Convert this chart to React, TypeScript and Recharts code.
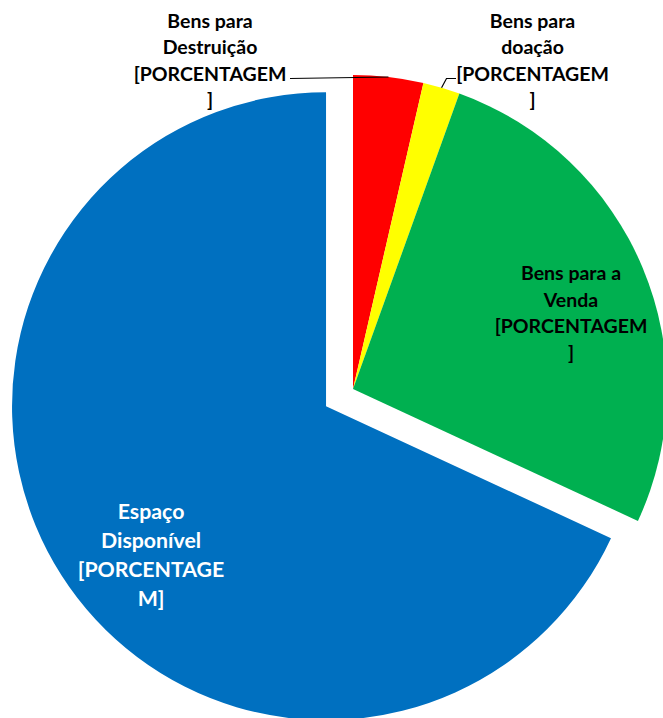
import React from 'react';
import { PieChart, Pie, Cell } from 'recharts';

const categories = ['Bens para Destruição', 'Bens para doação', 'Bens para a Venda', 'Espaço Disponível'];
const values = [3.6, 1.9, 26.4, 68.1];
const colors = ['#FF0000', '#FFFF00', '#00B050', '#0070C0'];
const labelLines = [
  ['Bens para', 'Destruição', '[PORCENTAGEM', ']'],
  ['Bens para', 'doação', '[PORCENTAGEM', ']'],
  ['Bens para a', 'Venda', '[PORCENTAGEM', ']'],
  ['Espaço', 'Disponível', '[PORCENTAGE', 'M]'],
];
const explodedIndex = 3;

const data = categories.map((name, i) => ({ name, value: values[i] }));

const W = 663;
const H = 718;
const CX = 353;
const CY = 389;
const R = 314;
const EXPLODE = 32;
const START = 90;
const END = -270;
const RAD = Math.PI / 180;

const total = values.reduce((a, b) => a + b, 0);
const before = values.slice(0, explodedIndex).reduce((a, b) => a + b, 0);
const midFrac = (before + values[explodedIndex] / 2) / total;
const midDeg = START + (END - START) * midFrac;
const EX_DX = EXPLODE * Math.cos(midDeg * RAD);
const EX_DY = -EXPLODE * Math.sin(midDeg * RAD);

const FONT = 'Lato, "Open Sans", sans-serif';

// label layout relative to pie center: anchor x offset, first baseline offset
const layout = [
  { dx: -143, dy: -361.5, size: 19.5, lh: 26.5, color: '#000', leader: 'left' },
  { dx: 179.5, dy: -361.5, size: 19.5, lh: 26.5, color: '#000', leader: 'right' },
  { dx: 218, dy: -109, size: 19.5, lh: 26.7, color: '#000', leader: '' },
  { dx: -175, dy: 112.3, size: 21.3, lh: 29, color: '#fff', leader: '' },
];

const renderLabel = (props: any) => {
  const { cx, cy, midAngle, index } = props;
  const L = layout[index];
  let ox = 0;
  let oy = 0;
  if (index === explodedIndex) {
    ox = EX_DX;
    oy = EX_DY;
  }
  const ax = cx + ox + L.dx;
  const ay = cy + oy + L.dy;
  const px = cx + R * Math.cos(midAngle * RAD);
  const py = cy - R * Math.sin(midAngle * RAD);
  const lines = labelLines[index];
  let leader = null;
  if (L.leader === 'left') {
    const sx = ax + 80;
    const sy = ay + 2 * L.lh - 2;
    leader = <path d={`M${sx},${sy}L${px},${py}`} stroke="#000" strokeWidth={1.2} fill="none" />;
  } else if (L.leader === 'right') {
    const sx = ax - 76.5;
    const sy = ay + 2 * L.lh - 2;
    const ex = ax - 86;
    leader = <path d={`M${sx},${sy}L${ex},${sy}L${px},${py}`} stroke="#000" strokeWidth={1.2} fill="none" />;
  }
  return (
    <g key={`lbl-${index}`}>
      {leader}
      <text
        x={ax}
        y={ay}
        textAnchor="middle"
        fill={L.color}
        fontFamily={FONT}
        fontWeight={700}
        fontSize={L.size}
      >
        {lines.map((t, i) => (
          <tspan key={i} x={ax} y={ay + i * L.lh}>
            {t}
          </tspan>
        ))}
      </text>
    </g>
  );
};

export default function App() {
  return (
    <div style={{ position: 'absolute', left: 0, top: 0, width: W, height: H, overflow: 'hidden', background: '#fff' }}>
      <PieChart width={W} height={H} margin={{ top: 0, right: 0, bottom: 0, left: 0 }}>
        <Pie
          data={data}
          dataKey="value"
          nameKey="name"
          cx={CX + EX_DX}
          cy={CY + EX_DY}
          outerRadius={R}
          startAngle={START}
          endAngle={END}
          stroke="none"
          isAnimationActive={false}
          label={false}
          labelLine={false}
        >
          {data.map((d, i) => (
            <Cell key={i} fill={i === explodedIndex ? colors[i] : 'transparent'} stroke="none" />
          ))}
        </Pie>
        <Pie
          data={data}
          dataKey="value"
          nameKey="name"
          cx={CX}
          cy={CY}
          outerRadius={R}
          startAngle={START}
          endAngle={END}
          stroke="none"
          isAnimationActive={false}
          label={renderLabel}
          labelLine={false}
        >
          {data.map((d, i) => (
            <Cell key={i} fill={i === explodedIndex ? 'transparent' : colors[i]} stroke="none" />
          ))}
        </Pie>
      </PieChart>
    </div>
  );
}
